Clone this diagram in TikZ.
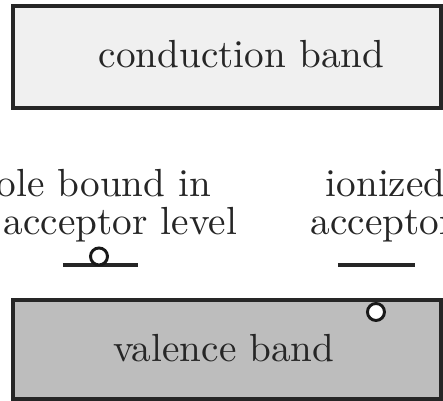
\documentclass[tikz,border=0pt]{standalone}
\begin{document}
\begin{tikzpicture}[x=0.255pt,y=-0.255pt,
  band/.style={draw=black!85,line width=0.8pt},
  lbl/.style={anchor=base,inner sep=0pt,text=black!85},
  level/.style={draw=black!85,line width=0.8pt},
  hole/.style={draw=black!90,fill=white,line width=0.75pt,circle,minimum size=17*0.255pt,inner sep=0pt}]
\useasboundingbox (0,0) rectangle (443,401);
% conduction band
\path[band,fill=black!6] (13,6) rectangle (441,108);
\node[lbl] (cbt) at (241.5,68) {conduction band};
% valence band
\path[band,fill=black!26] (13,300) rectangle (441,399);
\node[lbl] (vbt) at (224,362) {valence band};
% left acceptor level with bound hole
\node[lbl,anchor=base east] (l1) at (212,197) {hole bound in};
\node[lbl,anchor=base west] (l2) at (3,235) {acceptor level};
\coordinate (la) at (63,265);
\coordinate (lb) at (138,265);
\draw[level] (la) -- (lb);
\node[hole] (h1) at (99,256.5) {};
% right ionized acceptor
\node[lbl,anchor=base west] (r1) at (325,197) {ionized};
\node[lbl,anchor=base west] (r2) at (310,235) {acceptor};
\coordinate (ra) at (338,265);
\coordinate (rb) at (415,265);
\draw[level] (ra) -- (rb);
% free hole in valence band
\node[hole] (h2) at (376,312) {};
\end{tikzpicture}
\end{document}
